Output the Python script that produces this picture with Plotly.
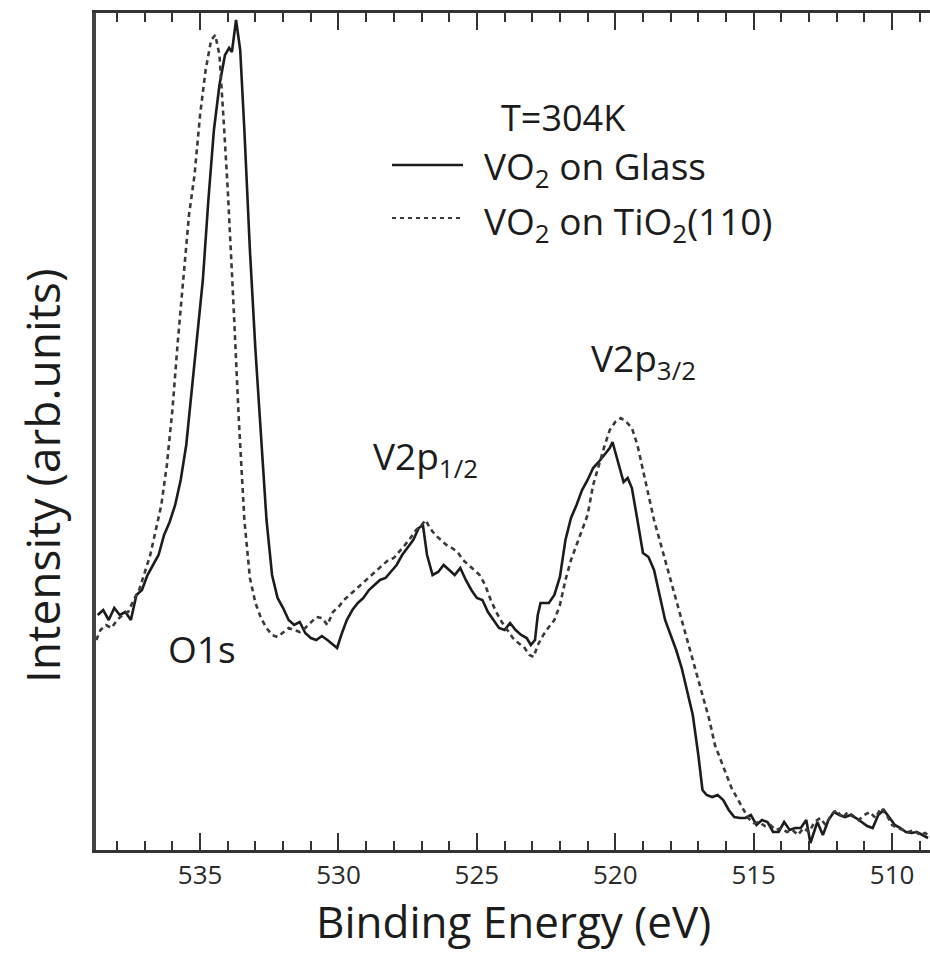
import plotly.graph_objects as go

# ---- data (binding energy in eV, intensity in arb. units) ----
energy_glass = [538.7, 538.5, 538.3, 538.1, 537.9, 537.7, 537.5, 537.3, 537.1, 536.9,
                536.7, 536.5, 536.3, 536.1, 535.9, 535.7, 535.5, 535.3, 535.1, 534.9,
                534.7, 534.5, 534.3, 534.1, 533.95, 533.85, 533.7, 533.55, 533.4, 533.2,
                533.0, 532.8, 532.6, 532.4, 532.2, 532.0, 531.8, 531.6, 531.4, 531.2,
                531.0, 530.8, 530.6, 530.4, 530.2, 530.05, 529.9, 529.7, 529.5, 529.3,
                529.1, 528.9, 528.7, 528.5, 528.3, 528.1, 527.9, 527.7, 527.5, 527.3,
                527.1, 526.95, 526.8, 526.6, 526.4, 526.2, 526.0, 525.8, 525.6, 525.4,
                525.2, 525.0, 524.8, 524.6, 524.4, 524.2, 524.0, 523.8, 523.6, 523.4,
                523.2, 523.05, 522.9, 522.8, 522.7, 522.4, 522.2, 522.0, 521.8, 521.6,
                521.4, 521.2, 521.0, 520.8, 520.6, 520.4, 520.2, 520.1, 519.9, 519.7,
                519.55, 519.4, 519.2, 519.0, 518.8, 518.6, 518.4, 518.2, 518.0, 517.8,
                517.6, 517.4, 517.2, 517.0, 516.85, 516.7, 516.5, 516.3, 516.1, 515.9,
                515.7, 515.5, 515.3, 515.1, 514.9, 514.7, 514.5, 514.3, 514.1, 513.9,
                513.7, 513.5, 513.3, 513.1, 512.95, 512.7, 512.5, 512.3, 512.1, 511.9,
                511.7, 511.5, 511.3, 511.1, 510.9, 510.7, 510.5, 510.3, 510.1, 509.9,
                509.7, 509.5, 509.3, 509.1, 508.9, 508.7]
intensity_glass = [235, 240, 230, 242, 235, 238, 230, 255, 260, 275,
                   285, 295, 315, 328, 345, 370, 405, 460, 510, 570,
                   650, 720, 765, 795, 802, 798, 830, 800, 720, 600,
                   500, 410, 330, 275, 252, 242, 230, 225, 228, 217,
                   212, 210, 214, 210, 205, 202, 215, 230, 240, 247,
                   252, 260, 265, 270, 272, 278, 285, 295, 302, 310,
                   322, 325, 295, 275, 278, 285, 280, 275, 282, 270,
                   260, 252, 250, 238, 230, 222, 220, 227, 220, 215,
                   212, 205, 210, 235, 247, 247, 255, 273, 310, 332,
                   345, 360, 370, 382, 388, 395, 402, 408, 388, 368,
                   372, 362, 330, 297, 293, 280, 255, 230, 215, 200,
                   182, 160, 135, 95, 60, 55, 53, 55, 50, 40,
                   33, 32, 32, 35, 25, 30, 28, 18, 18, 28,
                   20, 22, 22, 30, 7, 28, 15, 30, 38, 35,
                   33, 35, 32, 28, 24, 22, 35, 40, 32, 25,
                   22, 18, 17, 18, 15, 12]

energy_tio2 = [538.75, 538.6, 538.4, 538.2, 538.0, 537.8, 537.6, 537.4, 537.2, 537.0,
               536.8, 536.6, 536.4, 536.2, 536.0, 535.8, 535.6, 535.4, 535.2, 535.0,
               534.8, 534.6, 534.45, 534.3, 534.15, 534.0, 533.8, 533.6, 533.4, 533.2,
               533.0, 532.8, 532.6, 532.4, 532.2, 532.0, 531.8, 531.6, 531.4, 531.2,
               531.0, 530.8, 530.6, 530.4, 530.2, 530.0, 529.8, 529.6, 529.4, 529.2,
               529.0, 528.8, 528.6, 528.4, 528.2, 528.0, 527.8, 527.6, 527.4, 527.2,
               527.0, 526.85, 526.7, 526.5, 526.3, 526.1, 525.9, 525.7, 525.5, 525.3,
               525.1, 524.9, 524.7, 524.5, 524.3, 524.1, 523.9, 523.7, 523.5, 523.3,
               523.1, 522.95, 522.8, 522.6, 522.4, 522.2, 522.0, 521.8, 521.6, 521.4,
               521.2, 521.0, 520.8, 520.6, 520.4, 520.2, 520.0, 519.8, 519.6, 519.4,
               519.2, 519.0, 518.8, 518.6, 518.4, 518.2, 518.0, 517.8, 517.6, 517.4,
               517.2, 517.0, 516.8, 516.6, 516.4, 516.2, 516.0, 515.8, 515.6, 515.4,
               515.2, 515.0, 514.8, 514.6, 514.4, 514.2, 514.0, 513.8, 513.6, 513.4,
               513.2, 513.0, 512.8, 512.6, 512.4, 512.2, 512.0, 511.8, 511.6, 511.4,
               511.2, 511.0, 510.8, 510.6, 510.4, 510.2, 510.0, 509.8, 509.6, 509.4,
               509.2, 509.0, 508.8, 508.65]
intensity_tio2 = [210, 220, 225, 222, 230, 235, 238, 250, 260, 278,
                  295, 320, 345, 385, 440, 510, 570, 635, 675, 735,
                  780, 810, 815, 795, 730, 660, 550, 430, 330, 272,
                  247, 232, 222, 215, 213, 218, 222, 220, 218, 222,
                  228, 233, 232, 225, 238, 243, 250, 255, 260, 265,
                  270, 275, 280, 285, 290, 292, 298, 305, 312, 320,
                  325, 330, 322, 315, 310, 305, 302, 298, 290, 285,
                  280, 275, 265, 250, 238, 228, 220, 212, 207, 203,
                  195, 193, 205, 215, 223, 230, 245, 270, 290, 305,
                  320, 335, 365, 385, 403, 420, 428, 432, 428, 422,
                  405, 380, 355, 330, 310, 290, 270, 250, 228, 208,
                  190, 170, 150, 130, 105, 90, 75, 62, 52, 42,
                  32, 27, 28, 24, 25, 20, 22, 18, 20, 15,
                  22, 18, 28, 32, 25, 35, 40, 32, 38, 34,
                  30, 35, 38, 32, 42, 35, 25, 22, 20, 18,
                  20, 15, 17, 14]

x_tick_values = [535, 530, 525, 520, 515, 510]
x_tick_labels = ["535", "530", "525", "520", "515", "510"]
x_range = [538.76, 508.63]
y_range = [0, 837]

# ---- layout geometry (pixels) ----
W, H = 930, 954
ML, MR, MT, MB = 96, 0, 13, 104
PW, PH = W - ML - MR, H - MT - MB


def px(xp):
    return (xp - ML) / PW


def py(yp):
    return (H - MB - yp) / PH


FONT = "Open Sans, Lato, sans-serif"
INK = "#1c1c1c"

fig = go.Figure()
fig.add_trace(go.Scatter(x=energy_glass, y=intensity_glass, mode="lines",
                         line=dict(color=INK, width=2.6), name="VO2 on Glass",
                         showlegend=False))
fig.add_trace(go.Scatter(x=energy_tio2, y=intensity_tio2, mode="lines",
                         line=dict(color="#3a3a3a", width=2.6, dash="5px,4px"),
                         name="VO2 on TiO2(110)", showlegend=False))

annotations = [
    dict(text="Binding Energy (eV)", x=0.5, y=py(921), font=dict(size=44)),
    dict(text="Intensity (arb.units)", x=px(42), y=py(476), textangle=-90,
         font=dict(size=46)),
    dict(text="T=304K", x=px(563), y=py(117), font=dict(size=36)),
    dict(text="VO<sub>2</sub> on Glass", x=px(482), y=py(168), xanchor="left",
         font=dict(size=37)),
    dict(text="VO<sub>2</sub> on TiO<sub>2</sub>(110)", x=px(482), y=py(223),
         xanchor="left", font=dict(size=37)),
    dict(text="V2p<sub>3/2</sub>", x=px(643), y=py(360), font=dict(size=37)),
    dict(text="V2p<sub>1/2</sub>", x=px(425), y=py(458), font=dict(size=37)),
    dict(text="O1s", x=px(202), y=py(648), font=dict(size=37)),
]
for a in annotations:
    a.setdefault("xanchor", "center")
    a.update(xref="paper", yref="paper", yanchor="middle", showarrow=False)
    a["font"].update(family=FONT, color=INK)

shapes = [
    dict(type="line", xref="paper", yref="paper", x0=px(392), x1=px(463),
         y0=py(165), y1=py(165), line=dict(color=INK, width=2.6)),
    dict(type="line", xref="paper", yref="paper", x0=px(392), x1=px(463),
         y0=py(218), y1=py(218), line=dict(color="#3a3a3a", width=2.2, dash="4px,4px")),
]

fig.update_layout(
    width=W, height=H,
    margin=dict(l=ML, r=MR, t=MT, b=MB),
    paper_bgcolor="white", plot_bgcolor="white",
    font=dict(family=FONT, color=INK, size=26),
    annotations=annotations,
    shapes=shapes,
    showlegend=False,
)
fig.update_xaxes(
    range=x_range, tickvals=x_tick_values, ticktext=x_tick_labels,
    ticks="inside", ticklen=17, tickwidth=2, tickcolor="#333",
    minor=dict(ticks="inside", ticklen=9, tickwidth=1.5, tickcolor="#333", dtick=1, tick0=510),
    showline=True, linecolor="#333", linewidth=3, mirror="ticks",
    showgrid=False, zeroline=False,
    tickfont=dict(size=26, family=FONT, color="#2a2a2a"),
)
fig.update_yaxes(
    range=y_range, showticklabels=False, ticks="",
    showline=True, linecolor="#444", linewidth=4, mirror=False,
    showgrid=False, zeroline=False,
)

fig.write_html("out.html")
